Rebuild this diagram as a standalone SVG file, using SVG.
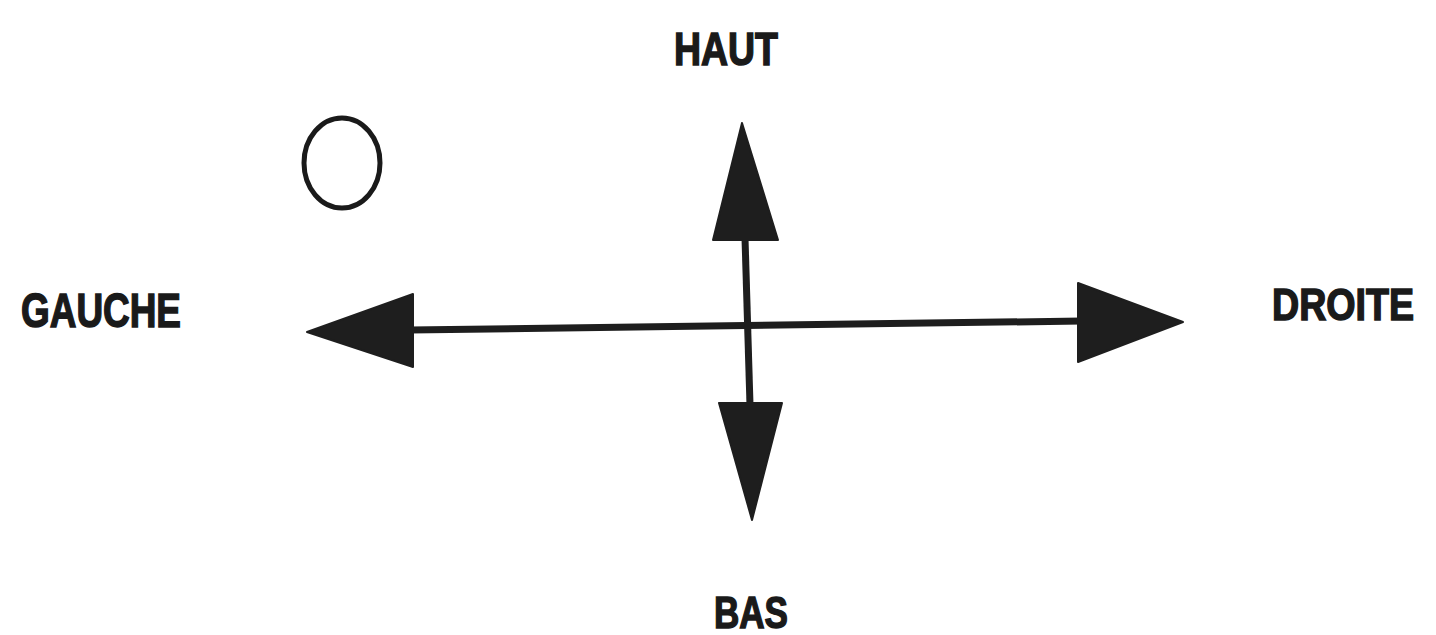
<svg xmlns="http://www.w3.org/2000/svg" width="1436" height="635" viewBox="0 0 1436 635">
<style>
.lbl{font-family:"Liberation Sans",Arial,sans-serif;font-weight:bold;fill:#1a1a1a;stroke:#1a1a1a;stroke-width:1.5;}
.shaft{stroke:#1e1e1e;stroke-width:7;fill:none;}
.head{fill:#1e1e1e;stroke:#1e1e1e;stroke-width:2;stroke-linejoin:round;}
</style>
<rect width="1436" height="635" fill="#ffffff"/>
<g id="circle">
<ellipse cx="342" cy="163" rx="38" ry="45" fill="none" stroke="#1a1a1a" stroke-width="5"/>
</g>
<g id="connectors">
<line class="shaft" x1="410" y1="330" x2="1082" y2="321"/>
<line class="shaft" x1="745" y1="238" x2="750" y2="405"/>
<polygon class="head" points="307,332 413,294 413,367"/>
<polygon class="head" points="1183,322 1078,283 1078,362"/>
<polygon class="head" points="742,123 713,240 778,240"/>
<polygon class="head" points="752,520 719,403 782,403"/>
</g>
<g id="haut"><text class="lbl" x="726" y="65" font-size="46" text-anchor="middle" textLength="104" lengthAdjust="spacingAndGlyphs">HAUT</text></g>
<g id="gauche"><text class="lbl" x="101" y="327" font-size="48" text-anchor="middle" textLength="160" lengthAdjust="spacingAndGlyphs">GAUCHE</text></g>
<g id="droite"><text class="lbl" x="1343" y="320" font-size="44" text-anchor="middle" textLength="142" lengthAdjust="spacingAndGlyphs">DROITE</text></g>
<g id="bas"><text class="lbl" x="751" y="628" font-size="44" text-anchor="middle" textLength="74" lengthAdjust="spacingAndGlyphs">BAS</text></g>
</svg>
